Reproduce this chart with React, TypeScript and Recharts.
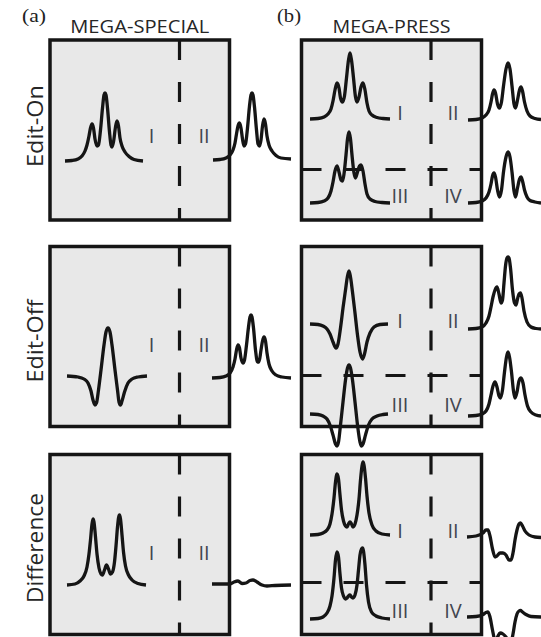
import React from 'react';
import { ComposedChart, Line, XAxis, YAxis, ReferenceArea } from 'recharts';

type P = [number, number];

// ---- spectra (x, y, y grows downward) ----
const specialOnInside: P[] = [[65,161],[72,160.5],[78,159],[82,156],[85,151],[87,145],[89,136],[90.5,128],[92,124],[93.5,128],[95,139],[97,146],[98.5,145],[100.5,130],[102.5,108],[104,95],[105,93],[106,95],[107.5,108],[109.5,132],[111,145],[112,147],[113.5,142],[115.5,127],[117,121],[118.5,126],[120,138],[122,146],[125,152],[129,156.5],[134,159.5],[143,161]];
const specialOnOutside: P[] = [[213,160],[220,159.5],[226,158],[230,155],[233,150],[235,143],[236.5,134],[238,126],[239.5,123],[241,128],[242.5,139],[244,146],[245.5,144],[247.5,128],[249.5,106],[251,95],[252,93],[253,95],[254.5,107],[256.5,130],[258,144],[259.5,146],[261,140],[262.5,126],[264,119],[265.5,124],[267,136],[269,145],[272,151],[276,155.5],[281,158],[291,159]];
const specialOffInside: P[] = [[67,376],[78,377],[84,379],[88,383],[91,391],[93,400],[95,405],[96.5,403],[98.5,390],[101,370],[104,345],[106,332],[108,328],[110,332],[112,345],[115,370],[117.5,390],[119,402],[120.5,405],[122,401],[124.5,392],[128,383],[132,379],[138,377],[147,376]];
const specialOffOutside: P[] = [[212,378],[220,377.5],[226,376],[230,373],[233,367],[235,359],[236.5,350],[238,345],[239.5,348],[241,358],[243,363],[244.5,360],[246.5,345],[248.5,327],[250,317],[251,315],[252,317],[253.5,328],[255.5,350],[257.5,362],[259,362],[261,350],[262.5,341],[264,337],[265.5,341],[267,353],[269,364],[272,371],[276,375],[282,377],[291,378]];
const specialDiffInside: P[] = [[67,585],[75,584],[80,581],[84,576],[87,567],[89,554],[90.5,540],[92,524],[93,519],[94,522],[95.5,537],[97,554],[99,568],[101,574],[102.5,575],[104.5,570],[106.5,565],[108.5,569],[110.5,574],[112.5,572],[114.5,562],[116,546],[117.5,527],[118.5,518],[119.5,515],[120.5,519],[122,535],[123.5,552],[125.5,566],[128.5,575],[132,580],[138,583.5],[146,585]];
const specialDiffOutside: P[] = [[212,584],[230,584],[234,582],[238,581],[242,583.5],[246,583],[250,580.5],[253,580],[257,582],[262,585],[267,586],[275,585.5],[291,585]];

const pressOnI: P[] = [[310,119],[318,118.5],[324,117],[328,114],[331,109],[333,101],[335,90],[337,83],[339,88],[340.5,98],[342.5,102],[344.5,96],[346.5,78],[348.5,60],[350,53],[351.5,60],[353.5,78],[355.5,97],[357,102],[359,97],[361,87],[363,83],[365,90],[367,103],[369,111],[372,115],[377,117.5],[383,118.5],[390,119]];
const pressOnII: P[] = [[468,120],[476,119.5],[482,118],[486,115],[489,110],[491,102],[492.5,94],[494,90],[495.5,93],[497.5,104],[499.5,108],[501.5,102],[503.5,86],[506,69],[508,63],[510,69],[512,86],[514,104],[515.5,108],[517.5,100],[519.5,90],[521,87],[522.5,91],[524.5,102],[527,111],[530,116],[535,118.5],[541,119.5]];
const pressOnIII: P[] = [[310,203],[318,202.5],[324,201],[328,198],[331,191],[333,182],[335,171],[337,166],[339,172],[341,180],[342.5,181],[344,174],[346,155],[347.5,139],[349,132],[350.5,139],[352,155],[354,173],[355.5,178],[357.5,172],[359.5,166],[361,165],[363,171],[365,184],[367,194],[370,199],[375,201.5],[382,202.5],[390,203]];
const pressOnIV: P[] = [[468,203],[476,202.5],[482,201],[486,198],[489,192],[491,184],[492.5,176],[494,173],[495.5,177],[497.5,190],[499.5,197],[501.5,190],[503.5,172],[506,157],[508,152],[510,157],[512,172],[514,191],[515.5,197],[517.5,188],[519.5,179],[521,177],[522.5,181],[524.5,190],[527,197],[530,200.5],[535,202],[541,203]];

const pressOffI: P[] = [[310,324],[318,324.5],[323,326],[327,329],[330,334],[333,342],[336,348],[338,344],[340.5,328],[343,308],[345.5,290],[347.5,276],[349,271],[350.5,277],[352.5,292],[355,313],[357.5,335],[360,352],[362.5,359],[364.5,354],[367,342],[370,333],[374,327],[380,324.5],[388,324]];
const pressOffII: P[] = [[468,329],[476,328.5],[482,327],[486,323],[489,316],[491,307],[493,297],[495,290],[497,287],[499,294],[501,303],[502.5,300],[504,283],[505.5,266],[507,258],[508,257],[509,258],[510.5,268],[512.5,290],[514.5,303],[516,305],[517.5,299],[519,294],[520.5,293],[522,298],[524,311],[527,322],[531,327],[536,328.5],[541,329]];
const pressOffIII: P[] = [[310,414],[318,414.5],[323,416],[327,419],[330,425],[333,435],[335.5,444],[337,446],[338.5,442],[340.5,425],[343,402],[345.5,380],[347.5,368],[349,365],[350.5,368],[352.5,380],[355,402],[357.5,425],[360,442],[361.5,446],[363,444],[365.5,435],[368.5,425],[372,419],[377,416],[383,414.5],[388,414]];
const pressOffIV: P[] = [[468,416],[476,415.5],[482,414],[486,411],[489,404],[491,395],[493,386],[495,382],[497,387],[499,396],[500.5,398],[502.5,390],[504.5,372],[506.5,357],[508,352],[509.5,357],[511.5,372],[513.5,391],[515,398],[517,392],[519,381],[521,378],[523,383],[525,395],[527.5,406],[531,412],[536,415],[541,416]];

const pressDiffI: P[] = [[310,535],[318,534.5],[323,533],[327,530],[330,524],[332,514],[334,498],[335.5,482],[337,474],[338.5,479],[340,495],[341.5,510],[343.5,521],[345.5,526],[347,527],[348.5,524],[350,522],[351.5,524],[353,527],[355,524],[357,515],[359,499],[360.5,480],[362,466],[363,462],[364,465],[365.5,478],[367,496],[369,513],[372,525],[376,531],[382,534],[390,535]];
const pressDiffII: P[] = [[467,537],[476,536],[483,533],[486,530],[488,530],[490,536],[492.5,549],[495,557],[497,556],[500,553],[503,553],[506,555],[509,560],[511,560],[513,553],[515,540],[517,530],[519,524],[520.5,523],[522.5,526],[525,531],[529,535],[535,537],[541,537.5]];
const pressDiffIII: P[] = [[310,619],[318,618.5],[323,617],[327,613],[330,606],[332,596],[334,578],[335.5,560],[337,552],[338.5,557],[340,574],[341.5,588],[343.5,596],[345.5,599],[347,598],[348.5,596],[350,595],[351.5,597],[353,598],[355,595],[357,585],[358.5,570],[360,555],[361.5,549],[362.5,548],[363.5,551],[365,565],[366.5,585],[368.5,602],[371.5,612],[376,616],[382,618],[390,619]];
const pressDiffIV: P[] = [[467,617],[476,616.5],[483,614.5],[486,612.5],[488,612],[490,617],[492.5,630],[495,640],[497,638],[500,633],[503,634],[506,637],[509,642],[511,642],[513,634],[515,622],[517,614],[519,611],[520.5,610.5],[522.5,612],[526,614.5],[531,616.5],[541,617]];

const spectra: P[][] = [
  specialOnInside, specialOnOutside, specialOffInside, specialOffOutside, specialDiffInside, specialDiffOutside,
  pressOnI, pressOnII, pressOnIII, pressOnIV, pressOffI, pressOffII, pressOffIII, pressOffIV,
  pressDiffI, pressDiffII, pressDiffIII, pressDiffIV,
];

// ---- layout of the panels ----
const colX: P[] = [[50, 229.5], [301.5, 481.5]];
const rowY: P[] = [[40, 220], [246.5, 426.5], [454.5, 634.5]];
const splitX = [179.5, 431];
const splitY = [169.5, 375.5, 582.5];

// ---- texts ----
const panelTags = ['(a)', '(b)'];
const methodTitles = ['MEGA-SPECIAL', 'MEGA-PRESS'];
const rowTitles = ['Edit-On', 'Edit-Off', 'Difference'];
const specialRegions = ['I', 'II'];
const pressRegions = ['I', 'II', 'III', 'IV'];

const toPts = (a: P[]) => a.map(([x, y]) => ({ x, y }));

const INK = '#151515';
const LBL = '#41454f';
const SANS = '"Open Sans", "Noto Sans", sans-serif';

export default function App() {
  const dashes: P[][] = [];
  rowY.forEach(([y1, y2]) => {
    splitX.forEach((x) => dashes.push([[x, y1], [x, y2]]));
  });
  splitY.forEach((y) => dashes.push([[colX[1][0], y], [colX[1][1], y]]));

  const tagX = [22, 277];
  const titleW = [139, 118];
  const rowCY = [126, 341, 548];
  const rowW = [82, 83, 110];
  const specBase = [143, 352, 560];
  const pressBase = [[120, 203], [328, 412], [538, 618]];

  return (
    <div style={{ position: 'absolute', left: 0, top: 0, width: 541, height: 637, background: '#fff' }}>
      <ComposedChart width={541} height={637} margin={{ top: 0, right: 0, bottom: 0, left: 0 }}>
        <XAxis type="number" dataKey="x" domain={[0, 541]} hide allowDataOverflow />
        <YAxis type="number" dataKey="y" domain={[0, 637]} reversed hide allowDataOverflow />
        {rowY.map(([y1, y2], r) =>
          colX.map(([x1, x2], c) => (
            <ReferenceArea
              key={`p${r}${c}`}
              x1={x1}
              x2={x2}
              y1={y1}
              y2={y2}
              fill="#e8e8e8"
              fillOpacity={1}
              stroke={INK}
              strokeWidth={3.5}
              ifOverflow="visible"
            />
          ))
        )}
        {dashes.map((d, i) => (
          <Line
            key={`d${i}`}
            data={toPts(d)}
            dataKey="y"
            type="linear"
            stroke={INK}
            strokeWidth={3.2}
            strokeDasharray="20 22"
            dot={false}
            activeDot={false}
            isAnimationActive={false}
          />
        ))}
        {spectra.map((s, i) => (
          <Line
            key={`s${i}`}
            data={toPts(s)}
            dataKey="y"
            type="monotone"
            stroke={INK}
            strokeWidth={3.3}
            strokeLinejoin="round"
            dot={false}
            activeDot={false}
            isAnimationActive={false}
          />
        ))}
      </ComposedChart>
      <svg width={541} height={637} style={{ position: 'absolute', left: 0, top: 0, pointerEvents: 'none' }}>
        {panelTags.map((t, i) => (
          <text key={t} x={tagX[i]} y={22} fontFamily='"Liberation Serif", serif' fontSize={19} fill="#222" textLength={24} lengthAdjust="spacingAndGlyphs">
            {t}
          </text>
        ))}
        {methodTitles.map((t, i) => (
          <text key={t} x={(colX[i][0] + colX[i][1]) / 2} y={33} textAnchor="middle" fontFamily={SANS} fontSize={18.5} fill="#262626" textLength={titleW[i]} lengthAdjust="spacingAndGlyphs">
            {t}
          </text>
        ))}
        {rowTitles.map((t, i) => (
          <text key={t} x={42.5} y={rowCY[i]} textAnchor="middle" transform={`rotate(-90, 42.5, ${rowCY[i]})`} fontFamily={SANS} fontSize={21} fill="#262626" textLength={rowW[i]} lengthAdjust="spacingAndGlyphs">
            {t}
          </text>
        ))}
        {specBase.map((y, r) =>
          specialRegions.map((t, k) => (
            <text key={`a${r}${k}`} x={k === 0 ? 151.5 : 204} y={y} textAnchor="middle" fontFamily={SANS} fontSize={20} fill={LBL}>
              {t}
            </text>
          ))
        )}
        {pressBase.map((ys, r) =>
          pressRegions.map((t, k) => (
            <text key={`b${r}${k}`} x={k % 2 === 0 ? 400 : 453} y={ys[k < 2 ? 0 : 1]} textAnchor="middle" fontFamily={SANS} fontSize={20} fill={LBL}>
              {t}
            </text>
          ))
        )}
      </svg>
    </div>
  );
}
